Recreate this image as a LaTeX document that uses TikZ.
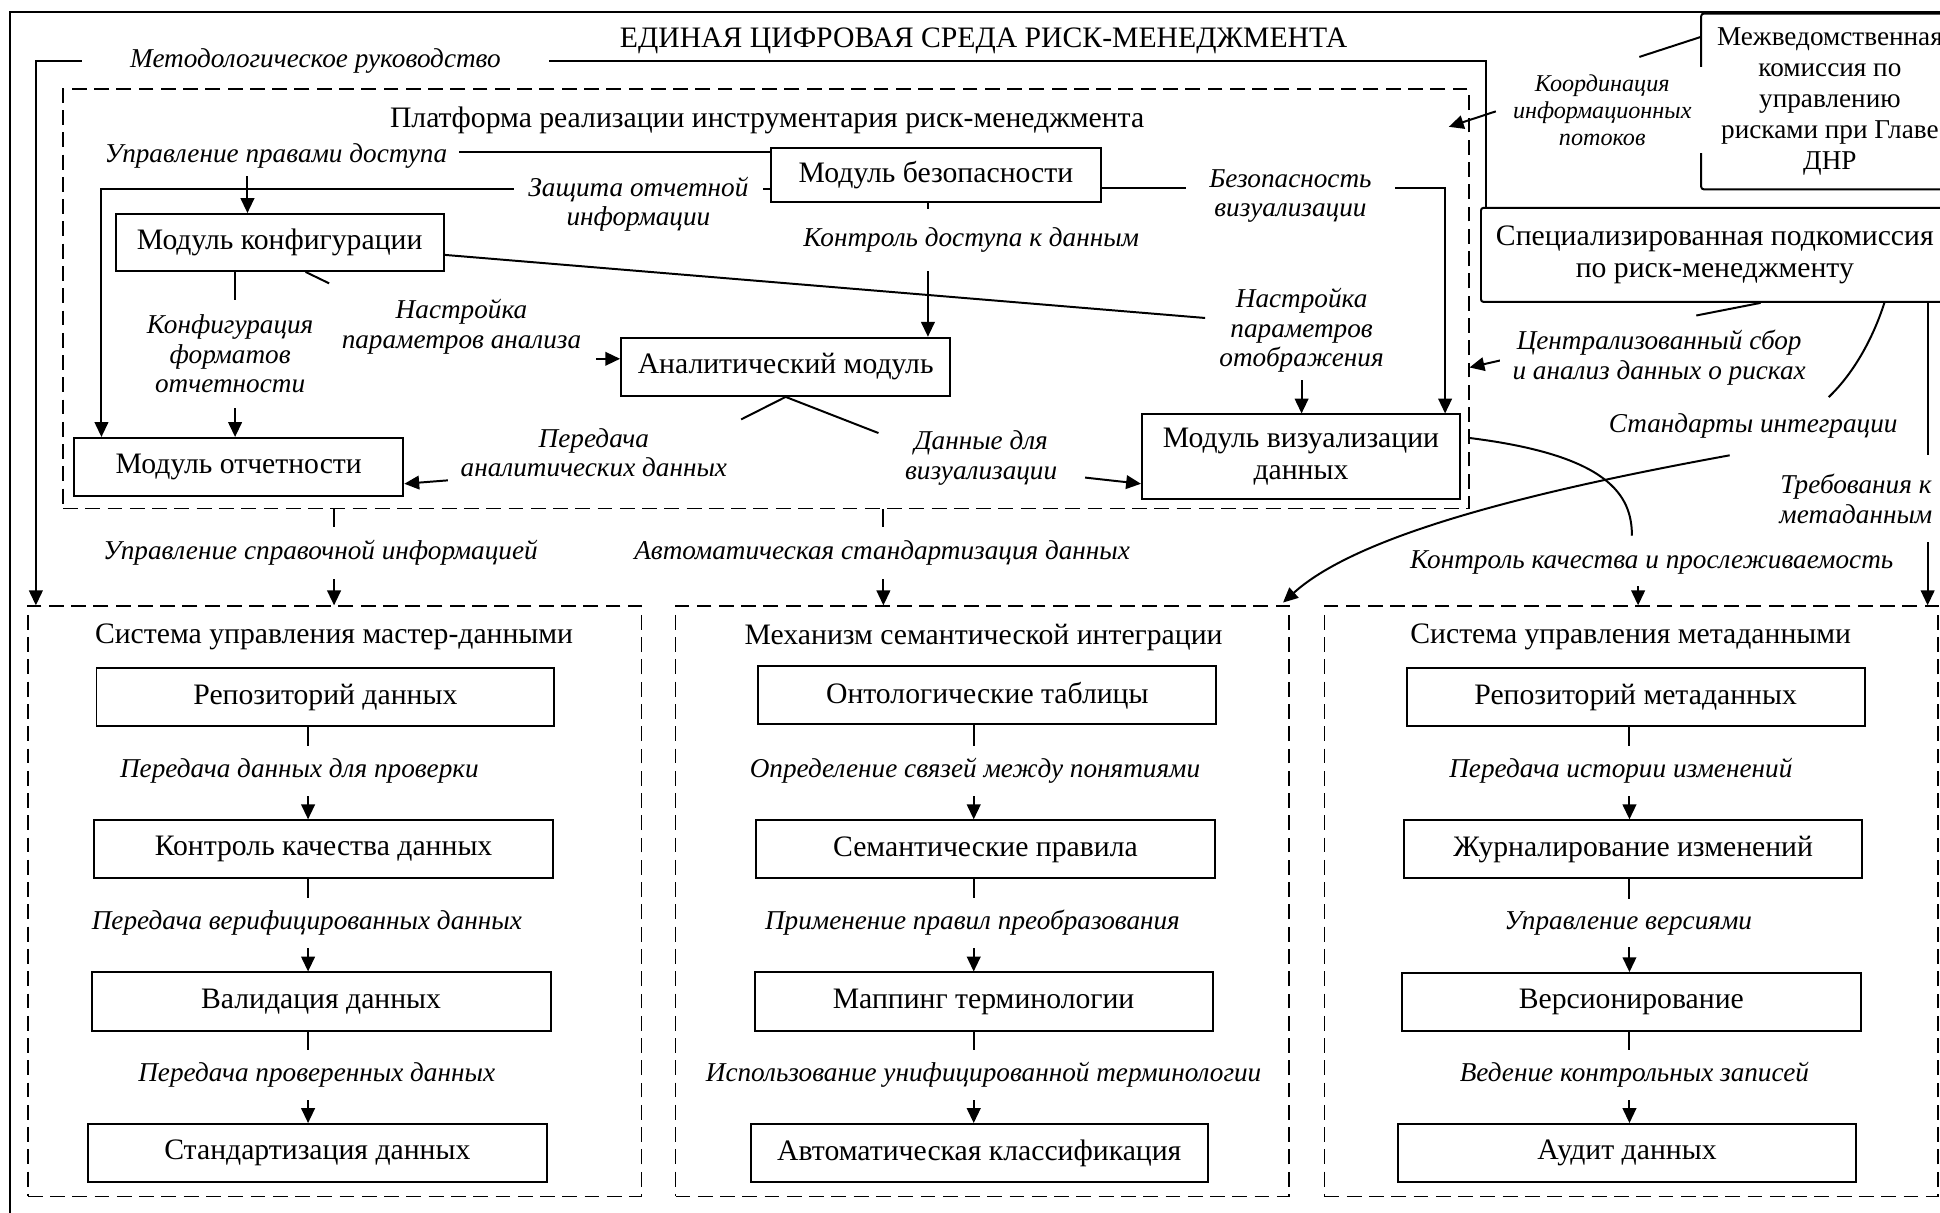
\documentclass[tikz,border=0pt]{standalone}
\usepackage{fontspec}
\setmainfont{Liberation Serif}
\usetikzlibrary{arrows.meta}
\begin{document}
\begin{tikzpicture}[x=1pt,y=-1pt,
  box/.style={draw, line width=1.6pt, font=\fontsize{24}{25.5}\selectfont, align=center, inner sep=0pt},
  grp/.style={draw, line width=1.5pt, dash pattern=on 12pt off 6pt, inner sep=0pt},
  lbl/.style={font=\itshape\fontsize{22}{24}\selectfont, align=center, fill=white, inner xsep=10pt, inner ysep=6pt},
  ttl/.style={font=\fontsize{24}{26}\selectfont, inner sep=0pt},
  conn/.style={line width=1.6pt},
  arr/.style={conn, -{Triangle[length=12pt,width=11pt]}},
]
\useasboundingbox (0,0) rectangle (1568,980);
\clip (0,0) rectangle (1568,980);
\fill[white] (0,0) rectangle (1568,980);

% outer frame of the environment
\draw[line width=1.6pt] (8,10) rectangle (1640,1040);
\node[ttl] (tEnv) at (795,33) {ЕДИНАЯ ЦИФРОВАЯ СРЕДА РИСК-МЕНЕДЖМЕНТА};

% group frames
\node[grp, minimum width=1136pt, minimum height=339pt] (plat) at (619,241.5) {};
\node[grp, minimum width=496pt, minimum height=477pt] (master) at (270.5,728.5) {};
\node[grp, minimum width=496pt, minimum height=477pt] (sem) at (794,728.5) {};
\node[grp, minimum width=496pt, minimum height=477pt] (meta) at (1318.5,728.5) {};

\node[ttl] (tPlat) at (620,97) {Платформа реализации инструментария риск-менеджмента};
\node[ttl] (tMaster) at (270,515) {Система управления мастер-данными};
\node[ttl] (tSem) at (795,515) {Механизм семантической интеграции};
\node[ttl] (tMeta) at (1318,515) {Система управления метаданными};

% commissions
\node[box, rounded corners=2pt, minimum width=208pt, minimum height=142pt,
      font=\fontsize{22}{25}\selectfont] (mezh) at (1479,82)
  {Межведомственная\\комиссия по\\управлению\\рисками при Главе\\ДНР};
\node[box, rounded corners=2pt, minimum width=378pt, minimum height=76pt] (spec) at (1386,206)
  {Специализированная подкомиссия\\по риск-менеджменту};

% platform modules
\node[box, minimum width=267pt, minimum height=44pt] (sec) at (756.5,141.5) {Модуль безопасности};
\node[box, minimum width=265pt, minimum height=46pt] (cfg) at (226,196) {Модуль конфигурации};
\node[box, minimum width=266pt, minimum height=47pt] (ana) at (635,296.5) {Аналитический модуль};
\node[box, minimum width=266pt, minimum height=47pt] (rep) at (193,377.5) {Модуль отчетности};
\node[box, minimum width=257pt, minimum height=68pt] (vis) at (1051.5,369) {Модуль визуализации\\данных};

% master data chain
\node[box, minimum width=370pt, minimum height=47pt] (r1) at (263,563.5) {Репозиторий данных};
\node[box, minimum width=371pt, minimum height=47pt] (r2) at (261.5,686.5) {Контроль качества данных};
\node[box, minimum width=371pt, minimum height=47pt] (r3) at (259.5,809.5) {Валидация данных};
\node[box, minimum width=371pt, minimum height=47pt] (r4) at (256.5,932) {Стандартизация данных};

% semantic chain
\node[box, minimum width=370pt, minimum height=47pt] (s1) at (798,562) {Онтологические таблицы};
\node[box, minimum width=371pt, minimum height=47pt] (s2) at (796.5,686.5) {Семантические правила};
\node[box, minimum width=370pt, minimum height=47pt] (s3) at (795,809.5) {Маппинг терминологии};
\node[box, minimum width=369pt, minimum height=47pt] (s4) at (791.5,932) {Автоматическая классификация};

% metadata chain
\node[box, minimum width=370pt, minimum height=47pt] (m1) at (1322,563.5) {Репозиторий метаданных};
\node[box, minimum width=370pt, minimum height=47pt] (m2) at (1320,686.5) {Журналирование изменений};
\node[box, minimum width=371pt, minimum height=47pt] (m3) at (1318.5,810) {Версионирование};
\node[box, minimum width=370pt, minimum height=47pt] (m4) at (1315,932) {Аудит данных};

% free ends of split connectors
\coordinate (dispIn) at (974,257);
\coordinate (anaCfgIn) at (266,229);
\coordinate (anaCfgOut) at (482,290);
\coordinate (transIn) at (599,339);
\coordinate (transOut) at (365,388);
\coordinate (visDataIn) at (710,350);
\coordinate (visDataOut) at (877,386);
\coordinate (qcIn) at (1319,433);
\coordinate (qcOut) at (1324,474);
\coordinate (coordIn) at (1325,46);
\coordinate (coordOut) at (1209,90);
\coordinate (platIn) at (1171,102.5);
\coordinate (centrIn) at (1371,255);
\coordinate (centrOut) at (1214,291);
\coordinate (integrIn) at (1478,321);
\coordinate (integrOut) at (1398,368);
\coordinate (semIn) at (1037,487);

% labels that interrupt connectors
\node[lbl, inner xsep=39pt] (lMeth) at (255,49) {Методологическое руководство};

% connectors
\draw[conn] (spec.north -| 1201,0) |- (lMeth.east);
\draw[arr] (lMeth.west) -| (master.north -| 29,0);
\draw[arr] (sec.west |- 0,123) -| (cfg.north -| 200,0);
\draw[arr] (sec.west |- 0,153) -| (rep.north -| 82,0);
\draw[arr] (sec.east |- 0,152) -| (vis.north -| 1168,0);
\draw[arr] (sec.south -| 750,0) -- (ana.north -| 750,0);
\draw[conn] (cfg.east |- 0,206) -- (dispIn);
\draw[arr] (cfg.south -| 190,0) -- (rep.north -| 190,0);
\draw[conn] (cfg.south -| 247,0) -- (anaCfgIn);
\draw[arr] (anaCfgOut) -- (ana.west |- 0,290);
\draw[conn] (ana.south) -- (transIn);
\draw[arr] (transOut) -- (rep.east |- 0,391);
\draw[conn] (ana.south) -- (visDataIn);
\draw[arr] (visDataOut) -- (vis.west |- 0,391);
\draw[conn] (plat.east |- 0,354) .. controls (1300,368) and (1319,400) .. (qcIn);
\draw[arr] (qcOut) -- (meta.north -| 1324,0);
\draw[conn] (mezh.west |- 0,30) -- (coordIn);
\draw[arr] (coordOut) -- (platIn);
\draw[conn] (spec.south -| 1423,0) -- (centrIn);
\draw[arr] (centrOut) -- (plat.east |- 0,297);
\draw[conn] (spec.south -| 1523,0) .. controls (1515,270) and (1500,300) .. (integrIn);
\draw[arr] (integrOut) .. controls (1250,395) and (1100,430) .. (semIn);
\draw[arr] (spec.south -| 1558,0) -- (meta.north -| 1558,0);
\draw[arr] (plat.south -| 270,0) -- (master.north -| 270,0);
\draw[arr] (plat.south -| 714,0) -- (sem.north -| 714,0);

\draw[arr] (r1.south -| 249,0) -- (r2.north -| 249,0);
\draw[arr] (r2.south -| 249,0) -- (r3.north -| 249,0);
\draw[arr] (r3.south -| 249,0) -- (r4.north -| 249,0);
\draw[arr] (s1.south -| 787,0) -- (s2.north -| 787,0);
\draw[arr] (s2.south -| 787,0) -- (s3.north -| 787,0);
\draw[arr] (s3.south -| 787,0) -- (s4.north -| 787,0);
\draw[arr] (m1.south -| 1317,0) -- (m2.north -| 1317,0);
\draw[arr] (m2.south -| 1317,0) -- (m3.north -| 1317,0);
\draw[arr] (m3.south -| 1317,0) -- (m4.north -| 1317,0);

% connector labels
\node[lbl] (lRights) at (223,126) {Управление правами доступа};
\node[lbl, inner xsep=12pt] (lProt) at (516,165) {Защита отчетной\\информации};
\node[lbl, inner xsep=19pt] (lSecVis) at (1043,158.5) {Безопасность\\визуализации};
\node[lbl, inner ysep=15pt] (lAccess) at (785,194) {Контроль доступа к данным};
\node[lbl, inner ysep=12pt] (lFormats) at (186,286) {Конфигурация\\форматов\\отчетности};
\node[lbl] (lAnaCfg) at (373,264) {Настройка\\параметров анализа};
\node[lbl] (lDisp) at (1052,267) {Настройка\\параметров\\отображения};
\draw[arr] (lDisp.south) -- (vis.north -| lDisp.south);
\node[lbl] (lTrans) at (480,366) {Передача\\аналитических данных};
\node[lbl] (lVisData) at (793,370) {Данные для\\визуализации};
\node[lbl, inner ysep=11pt] (lRef) at (259,447) {Управление справочной информацией};
\node[lbl, inner ysep=11pt] (lStd) at (713,447) {Автоматическая стандартизация данных};
\node[lbl, inner ysep=2pt] (lQC) at (1335,455) {Контроль качества и прослеживаемость};
\node[lbl, font=\itshape\fontsize{19.5}{22}\selectfont] (lCoord) at (1295,89) {Координация\\информационных\\потоков};
\node[lbl] (lCentral) at (1341,289) {Централизованный сбор\\и анализ данных о рисках};
\node[lbl] (lIntegr) at (1417,344) {Стандарты интеграции};
\node[lbl, inner ysep=15pt] (lMetaReq) at (1500,403) {Требования к\\метаданным};

\node[lbl, inner ysep=10pt] (lR1) at (242,623) {Передача данных для проверки};
\node[lbl, inner ysep=10pt] (lR2) at (248,746) {Передача верифицированных данных};
\node[lbl, inner ysep=10pt] (lR3) at (256,869) {Передача проверенных данных};
\node[lbl, inner ysep=10pt] (lS1) at (788,623) {Определение связей между понятиями};
\node[lbl, inner ysep=10pt] (lS2) at (786,746) {Применение правил преобразования};
\node[lbl, inner ysep=10pt] (lS3) at (795,869) {Использование унифицированной терминологии};
\node[lbl, inner ysep=10pt] (lM1) at (1310,623) {Передача истории изменений};
\node[lbl, inner ysep=10pt] (lM2) at (1316,746) {Управление версиями};
\node[lbl, inner ysep=10pt] (lM3) at (1321,869) {Ведение контрольных записей};
\end{tikzpicture}
\end{document}
